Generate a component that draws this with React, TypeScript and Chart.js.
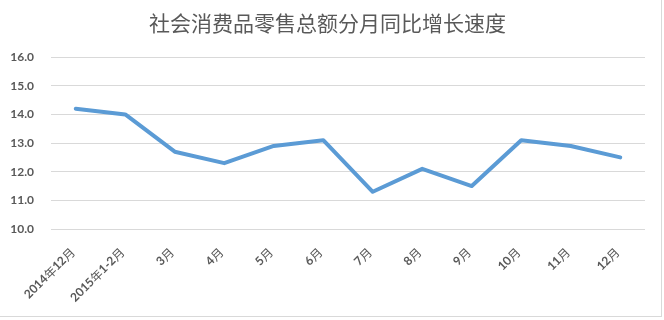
import React, { useEffect, useRef } from "react";
import { Chart, registerables } from "chart.js";

Chart.register(...registerables);

const categories: string[] = [
  "2014年12月", "2015年1-2月", "3月", "4月", "5月", "6月",
  "7月", "8月", "9月", "10月", "11月", "12月",
];
const growth: number[] = [14.2, 14.0, 12.7, 12.3, 12.9, 13.1, 11.3, 12.1, 11.5, 13.1, 12.9, 12.5];
const titleText = "社会消费品零售总额分月同比增长速度";
const yMin = 10;
const yMax = 16;
const yStep = 1;

const TEXT_COLOR = "#595959";
const TICK_FAMILY = "Lato, 'Noto Sans CJK SC', sans-serif";
const CJK_FAMILY = "'Noto Sans CJK SC', sans-serif";

const xLabelPlugin = {
  id: "rotatedXLabels",
  afterDraw(chart: any) {
    const { ctx, chartArea, scales } = chart;
    const xs = scales.x;
    ctx.save();
    ctx.fillStyle = TEXT_COLOR;
    ctx.textAlign = "left";
    ctx.textBaseline = "middle";
    categories.forEach((label, i) => {
      const x = xs.getPixelForTick(i);
      const runs = label.match(/[\u4e00-\u9fff]+|[^\u4e00-\u9fff]+/g) || [label];
      const fonts = runs.map((r) =>
        /[\u4e00-\u9fff]/.test(r) ? `12px ${CJK_FAMILY}` : `bold 12px ${TICK_FAMILY}`
      );
      const widths = runs.map((r, k) => {
        ctx.font = fonts[k];
        return ctx.measureText(r).width;
      });
      const total = widths.reduce((a, b) => a + b, 0);
      ctx.save();
      ctx.translate(x - 3, chartArea.bottom + 21);
      ctx.rotate(-Math.PI / 4);
      let cx = -total;
      runs.forEach((r, k) => {
        ctx.font = fonts[k];
        ctx.fillText(r, cx, 0);
        cx += widths[k];
      });
      ctx.restore();
    });
    ctx.restore();
  },
};

export default function App() {
  const ref = useRef<HTMLCanvasElement | null>(null);
  useEffect(() => {
    document.body.style.margin = "0";
    const ctx = ref.current;
    if (!ctx) return;
    const chart = new Chart(ctx, {
      type: "line",
      data: {
        labels: categories,
        datasets: [
          {
            data: growth,
            borderColor: "#5B9BD5",
            backgroundColor: "#5B9BD5",
            borderWidth: 4,
            pointRadius: 0,
            tension: 0,
            borderCapStyle: "round",
            borderJoinStyle: "round",
          },
        ],
      },
      plugins: [xLabelPlugin],
      options: {
        animation: false,
        responsive: false,
        layout: { padding: { left: 10, right: 19, top: 0, bottom: 91 } },
        plugins: {
          legend: { display: false },
          tooltip: { enabled: false },
          title: {
            display: true,
            text: titleText,
            color: TEXT_COLOR,
            font: { family: CJK_FAMILY, size: 21, weight: "normal" },
            padding: { top: 10, bottom: 22 },
          },
        },
        scales: {
          x: {
            offset: true,
            grid: { display: false, drawTicks: false },
            border: { display: false },
            ticks: { display: false },
          },
          y: {
            min: yMin,
            max: yMax,
            grid: { color: "#D9D9D9", lineWidth: 1, drawTicks: false },
            border: { display: false },
            afterFit: (s: any) => {
              s.width = 41;
            },
            ticks: {
              stepSize: yStep,
              color: TEXT_COLOR,
              font: { family: TICK_FAMILY, size: 12, weight: "bold" },
              padding: 17,
              callback: (v) => Number(v).toFixed(1),
            },
          },
        },
      },
    });
    return () => chart.destroy();
  }, []);
  return (
    <div style={{ position: "absolute", left: 0, top: 0, width: 664, height: 320, background: "#fff" }}>
      <canvas ref={ref} width={664} height={320} style={{ display: "block" }} />
      <div
        style={{
          position: "absolute",
          left: -1,
          top: -1,
          width: 662,
          height: 317,
          borderRight: "1px solid #D9D9D9",
          borderBottom: "1px solid #D9D9D9",
          pointerEvents: "none",
        }}
      />
    </div>
  );
}
